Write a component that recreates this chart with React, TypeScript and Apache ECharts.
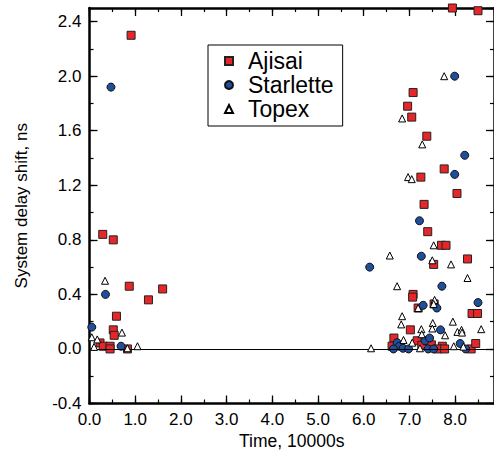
import React, { useEffect, useRef } from 'react';
import * as echarts from 'echarts';

const FONT = '"Liberation Sans", Arial, Helvetica, sans-serif';

const seriesNames = ['Ajisai', 'Starlette', 'Topex'];

const ajisai: [number, number][] = [
  [0.91, 2.30], [0.29, 0.84], [0.52, 0.80], [0.87, 0.46], [1.60, 0.44], [1.29, 0.36],
  [0.59, 0.24], [0.52, 0.14], [0.54, 0.10], [0.23, 0.044], [0.30, 0.02], [0.45, 0.02],
  [0.45, 0.0], [0.83, 0.0],
  [7.94, 2.50], [8.50, 2.48], [7.08, 1.88], [6.96, 1.78], [7.05, 1.70], [7.38, 1.56],
  [7.76, 1.32], [7.25, 1.26], [8.04, 1.14], [7.32, 1.06], [7.40, 0.86], [7.70, 0.76],
  [7.80, 0.76], [7.53, 0.62], [8.27, 0.66], [7.08, 0.40], [7.07, 0.38], [7.54, 0.33],
  [7.19, 0.30], [8.37, 0.26], [8.49, 0.26], [7.02, 0.14], [6.66, 0.08], [6.62, 0.02],
  [7.17, 0.06], [7.27, 0.027], [7.48, 0.03], [7.72, 0.02], [7.62, 0.0], [7.77, 0.0],
  [8.35, 0.0], [8.45, 0.04],
];

const starlette: [number, number][] = [
  [0.47, 1.92], [0.35, 0.40], [0.05, 0.16], [0.69, 0.02],
  [7.99, 2.00], [8.21, 1.42], [7.99, 1.28], [7.22, 0.94], [7.26, 0.68], [6.13, 0.60],
  [7.71, 0.46], [8.50, 0.34], [7.30, 0.32], [7.60, 0.30], [7.68, 0.14], [6.73, 0.046],
  [6.78, 0.02], [6.65, 0.0], [6.86, 0.005], [6.98, 0.0], [7.34, 0.06], [7.44, 0.08],
  [7.41, 0.0], [7.53, 0.0], [8.11, 0.04], [8.23, 0.0],
];

const topex: [number, number][] = [
  [0.34, 0.50], [0.71, 0.12], [0.05, 0.086], [0.17, 0.07], [0.10, 0.015], [1.05, 0.02],
  [0.83, 0.005],
  [7.76, 2.00], [6.84, 1.69], [7.28, 1.50], [6.97, 1.26], [7.05, 1.245], [7.53, 0.76],
  [6.57, 0.685], [7.50, 0.65], [7.91, 0.62], [8.27, 0.52], [6.73, 0.46], [7.55, 0.36],
  [6.84, 0.24], [6.82, 0.18], [7.51, 0.19], [7.95, 0.20], [7.26, 0.145], [7.50, 0.15],
  [8.05, 0.125], [8.14, 0.14], [8.15, 0.12], [8.57, 0.145], [7.78, 0.10], [6.87, 0.066],
  [7.27, 0.108], [7.06, 0.046], [7.23, 0.005], [6.16, 0.005], [7.97, 0.02], [8.18, 0.017],
  [7.19, 0.30], [7.53, 0.33],
];

const X_MIN = 0;
const X_MAX = 8.85;
const Y_MIN = -0.4;
const Y_MAX = 2.5;

export default function App() {
  const ref = useRef<HTMLDivElement>(null);

  useEffect(() => {
    const chart = echarts.init(ref.current!, null, { renderer: 'svg' });

    const black = '#000';
    const majorX = (position: 'top' | 'bottom', labels: boolean) => ({
      type: 'value',
      position,
      min: X_MIN,
      max: X_MAX,
      interval: 1,
      axisLine: { show: true, onZero: false, lineStyle: { color: black, width: 2.5 } },
      axisTick: { show: true, inside: true, length: 8, lineStyle: { color: black, width: 1.3 } },
      axisLabel: labels
        ? {
            show: true,
            color: black,
            fontSize: 17,
            fontFamily: FONT,
            margin: 7,
            showMaxLabel: false,
            formatter: (v: number) => v.toFixed(1),
          }
        : { show: false },
      splitLine: { show: false },
      ...(labels
        ? {
            name: 'Time, 10000s',
            nameLocation: 'middle',
            nameGap: 27,
            nameTextStyle: { color: black, fontSize: 17.5, fontFamily: FONT },
          }
        : {}),
    });
    const minorX = (position: 'top' | 'bottom') => ({
      type: 'value',
      position,
      min: X_MIN,
      max: X_MAX,
      interval: 0.5,
      axisLine: { show: false, onZero: false },
      axisTick: { show: true, inside: true, length: 4, lineStyle: { color: black, width: 1.2 } },
      axisLabel: { show: false },
      splitLine: { show: false },
    });
    const majorY = (position: 'left' | 'right', labels: boolean) => ({
      type: 'value',
      position,
      min: Y_MIN,
      max: Y_MAX,
      interval: 0.4,
      axisLine: { show: true, onZero: false, lineStyle: { color: black, width: 2.5 } },
      axisTick: { show: true, inside: true, length: 8, lineStyle: { color: black, width: 1.3 } },
      axisLabel: labels
        ? {
            show: true,
            color: black,
            fontSize: 17,
            fontFamily: FONT,
            margin: 8,
            showMaxLabel: false,
            formatter: (v: number) => v.toFixed(1),
          }
        : { show: false },
      splitLine: { show: false },
      ...(labels
        ? {
            name: 'System delay shift, ns',
            nameLocation: 'middle',
            nameGap: 60,
            nameTextStyle: { color: black, fontSize: 17, fontFamily: FONT },
          }
        : {}),
    });
    const minorY = (position: 'left' | 'right') => ({
      type: 'value',
      position,
      min: Y_MIN,
      max: Y_MAX,
      interval: 0.2,
      axisLine: { show: false, onZero: false },
      axisTick: { show: true, inside: true, length: 4, lineStyle: { color: black, width: 1.2 } },
      axisLabel: { show: false },
      splitLine: { show: false },
    });

    chart.setOption({
      animation: false,
      backgroundColor: '#fff',
      grid: { left: 89.5, right: -3, top: 8, bottom: 52.5, containLabel: false },
      legend: {
        orient: 'vertical',
        left: 208,
        top: 45,
        padding: [4, 9, 5, 16],
        itemGap: 0,
        itemWidth: 8,
        itemHeight: 8,
        borderColor: black,
        borderWidth: 1,
        backgroundColor: '#fff',
        textStyle: {
          color: black,
          fontSize: 23,
          fontFamily: FONT,
          lineHeight: 24,
          padding: [0, 0, 0, 10],
        },
        data: [
          { name: seriesNames[0], icon: 'rect' },
          { name: seriesNames[1], icon: 'circle' },
          { name: seriesNames[2], icon: 'triangle' },
        ],
      },
      xAxis: [majorX('bottom', true), minorX('bottom'), majorX('top', false), minorX('top')],
      yAxis: [majorY('left', true), minorY('left'), majorY('right', false), minorY('right')],
      series: [
        {
          name: seriesNames[0],
          type: 'scatter',
          xAxisIndex: 0,
          yAxisIndex: 0,
          symbol: 'rect',
          symbolSize: 8,
          clip: false,
          itemStyle: { color: '#e8262a', borderColor: '#222', borderWidth: 1, opacity: 1 },
          data: ajisai,
          markLine: {
            silent: true,
            symbol: 'none',
            label: { show: false },
            lineStyle: { color: black, width: 1, type: 'solid' },
            data: [{ yAxis: 0 }],
          },
          z: 3,
        },
        {
          name: seriesNames[1],
          type: 'scatter',
          xAxisIndex: 0,
          yAxisIndex: 0,
          symbol: 'circle',
          symbolSize: 8,
          clip: false,
          itemStyle: { color: '#1f4f9c', borderColor: '#111', borderWidth: 1, opacity: 1 },
          data: starlette,
          z: 4,
        },
        {
          name: seriesNames[2],
          type: 'scatter',
          xAxisIndex: 0,
          yAxisIndex: 0,
          symbol: 'triangle',
          symbolSize: 7,
          clip: false,
          itemStyle: { color: '#fff', borderColor: '#000', borderWidth: 1, opacity: 1 },
          data: topex,
          z: 5,
        },
      ],
    });

    return () => chart.dispose();
  }, []);

  return (
    <div
      ref={ref}
      style={{ position: 'fixed', left: 0, top: 0, width: 494, height: 456 }}
    />
  );
}
